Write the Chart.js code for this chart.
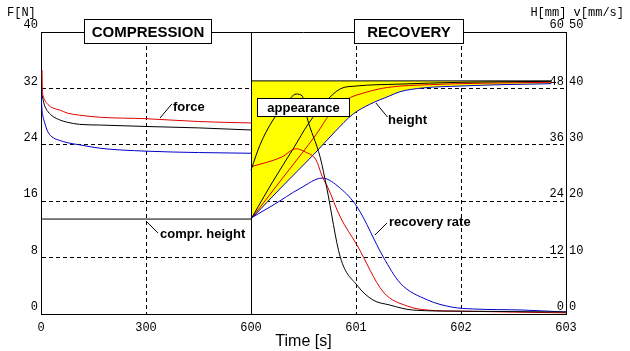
<!DOCTYPE html>
<html lang="en">
<head>
<meta charset="UTF-8">
<title>Compression and recovery</title>
<script src="https://cdn.jsdelivr.net/npm/chart.js"></script>
<style>
  html, body { margin: 0; padding: 0; background: #fff; }
  canvas { display: block; }
</style>
</head>
<body>
<canvas id="chart" width="630" height="351"></canvas>
<script>
// the time axis is split: 0..600 s takes two units, then one unit per second up to 603 s
const xTickLabels = ['0', '300', '600', '601', '602', '603'];

// compression phase, force F [N]
const compTimeRed = [3, 4, 6, 10, 20, 35, 55, 75, 110, 170, 300, 450, 600];
const forceRed    = [34.6, 31.8, 31.0, 30.4, 29.7, 29.2, 28.9, 28.5, 28.2, 27.9, 27.7, 27.3, 27.1];
const compTime    = [0, 2, 5, 10, 20, 35, 55, 75, 110, 170, 300, 450, 600];
const forceBlack  = [32.1, 31.4, 30.6, 29.6, 28.7, 28.0, 27.5, 27.2, 26.9, 26.8, 26.6, 26.4, 26.1];
const forceBlue   = [32.1, 29.6, 28.2, 27.2, 25.8, 25.0, 24.6, 24.3, 24.0, 23.5, 23.1, 22.9, 22.8];

// compressed height H [mm]
const comprTime   = [0, 600];
const comprHeight = [20.2, 20.2];

// recovery phase, height H [mm]
const heightTimeBlack = [600, 600.2, 600.4, 600.55, 600.7, 600.85, 601.0, 601.4, 602.0, 602.86];
const heightBlack     = [20.2, 27.9, 35.1, 40.6, 44.9, 47.9, 48.5, 48.9, 49.3, 49.5];
const heightTimeRed   = [600, 600.3, 600.63, 600.75, 600.9, 601.1, 601.3, 601.7, 602.2, 602.86];
const heightRed       = [20.2, 28.9, 38.5, 42.5, 45.5, 47.2, 48.2, 48.8, 49.1, 49.3];
const heightTimeBlue  = [600, 600.3, 600.6, 600.8, 600.97, 601.13, 601.32, 601.42, 601.64, 601.99, 602.4, 602.86];
const heightBlue      = [20.2, 27.2, 34.0, 38.8, 42.5, 44.6, 46.4, 47.3, 48.1, 48.5, 48.8, 49.0];

// appearance band, upper edge
const appearanceTime = [600, 602.86];
const appearanceTop  = [49.6, 49.6];

// recovery rate v [mm/s]
const rateTimeBlack = [600, 600.086, 600.21, 600.32, 600.43, 600.49, 600.53, 600.66, 600.72, 600.85, 601.01, 601.16, 601.32, 601.54, 601.99, 603];
const rateBlack     = [25.5, 30.0, 34.4, 36.9, 39.0, 38.6, 35.1, 27.7, 22.5, 10.1, 5.1, 2.5, 1.6, 0.7, 0.5, 0.35];
const rateTimeRed   = [600, 600.29, 600.43, 600.52, 600.62, 600.68, 600.73, 600.85, 601.01, 601.26, 601.49, 601.68, 602.0, 603];
const rateRed       = [26.1, 27.8, 29.3, 28.7, 27.3, 24.3, 22.5, 17.2, 12.2, 3.9, 1.4, 0.7, 0.5, 0.2];
const rateTimeBlue  = [600, 600.21, 600.47, 600.68, 600.85, 601.01, 601.26, 601.42, 601.68, 601.92, 602.11, 602.59, 603];
const rateBlue      = [17.0, 19.3, 22.3, 24.1, 22.3, 19.0, 10.1, 5.5, 2.5, 1.2, 0.9, 0.7, 0.35];

const RED = '#dd0000', BLACK = '#000000', BLUE = '#0000cc', YELLOW = '#ffff00';

function toAxis(t) {
    return t <= 600 ? t / 300 : 2 + (t - 600);
}

function series(label, times, values, color, axis, extra) {
    return Object.assign({
        label: label,
        data: times.map((t, i) => ({ x: toAxis(t), y: values[i] })),
        borderColor: color,
        borderWidth: 1,
        pointRadius: 0,
        fill: false,
        cubicInterpolationMode: 'monotone',
        yAxisID: axis
    }, extra || {});
}

// first in the list is drawn on top
const datasets = [
    series('rate black', rateTimeBlack, rateBlack, BLACK, 'yV'),
    series('rate red', rateTimeRed, rateRed, RED, 'yV'),
    series('rate blue', rateTimeBlue, rateBlue, BLUE, 'yV'),
    series('height black', heightTimeBlack, heightBlack, BLACK, 'yH'),
    series('height red', heightTimeRed, heightRed, RED, 'yH'),
    series('height blue', heightTimeBlue, heightBlue, BLUE, 'yH'),
    series('force red', compTimeRed, forceRed, RED, 'y'),
    series('force black', compTime, forceBlack, BLACK, 'y'),
    series('force blue', compTime, forceBlue, BLUE, 'y'),
    series('compr. height', comprTime, comprHeight, BLACK, 'yH')
];
const blueHeightIndex = 5;
datasets.push(series('appearance', appearanceTime, appearanceTop, BLACK, 'yH', {
    fill: blueHeightIndex,
    backgroundColor: YELLOW,
    cubicInterpolationMode: 'default',
    tension: 0
}));

// captions, placed in time / force units
const boxes = [
    { text: 'COMPRESSION', t0: 123, t1: 486, f0: 41.84, f1: 38.44, font: 'bold 15px "Liberation Sans"' },
    { text: 'RECOVERY', t0: 600.98, t1: 602.02, f0: 41.84, f1: 38.44, font: 'bold 15px "Liberation Sans"' },
    { text: 'appearance', t0: 600.057, t1: 600.933, f0: 30.64, f1: 28.09, font: 'bold 13px "Liberation Sans"' }
];
const labels = [
    { text: 'force', t: 377, f: 29.36, from: [340, 27.8], to: [374, 29.8] },
    { text: 'compr. height', t: 340, f: 11.35, from: [303, 13.05], to: [334, 11.49] },
    { text: 'height', t: 601.305, f: 27.52, from: [601.19, 29.93], to: [601.30, 27.94] },
    { text: 'recovery rate', t: 601.314, f: 13.05, from: [601.18, 11.2], to: [601.295, 12.9] }
];

const overlay = {
    id: 'overlay',
    afterDraw(chart) {
        const { ctx, chartArea: area, scales } = chart;
        const px = t => scales.x.getPixelForValue(toAxis(t));
        const py = f => scales.y.getPixelForValue(f);
        const snap = v => Math.round(v) + 0.5;
        ctx.save();
        ctx.strokeStyle = '#000';
        ctx.lineWidth = 1;
        ctx.setLineDash([]);

        // top edge of the frame and the solid split at 600 s
        ctx.beginPath();
        ctx.moveTo(area.left, snap(area.top));
        ctx.lineTo(area.right, snap(area.top));
        ctx.moveTo(snap(px(600)), area.top);
        ctx.lineTo(snap(px(600)), area.bottom);
        ctx.stroke();

        // unit headings
        ctx.fillStyle = '#000';
        ctx.font = '12px "Liberation Mono"';
        ctx.textBaseline = 'middle';
        ctx.textAlign = 'left';
        ctx.fillText('F[N]', 7, 13);
        ctx.textAlign = 'right';
        ctx.fillText('H[mm] v[mm/s]', 624, 13);

        // boxed captions
        boxes.forEach(b => {
            const x0 = snap(px(b.t0)), x1 = snap(px(b.t1));
            const y0 = snap(py(b.f0)), y1 = snap(py(b.f1));
            ctx.fillStyle = '#fff';
            ctx.fillRect(x0, y0, x1 - x0, y1 - y0);
            ctx.strokeRect(x0, y0, x1 - x0, y1 - y0);
            ctx.fillStyle = '#000';
            ctx.font = b.font;
            ctx.textAlign = 'center';
            ctx.fillText(b.text, (x0 + x1) / 2, (y0 + y1) / 2 + 1);
        });

        // free labels with their leader lines
        ctx.font = 'bold 13px "Liberation Sans"';
        ctx.textAlign = 'left';
        labels.forEach(l => {
            ctx.beginPath();
            ctx.moveTo(px(l.from[0]), py(l.from[1]));
            ctx.lineTo(px(l.to[0]), py(l.to[1]));
            ctx.stroke();
            ctx.fillText(l.text, px(l.t), py(l.f));
        });
        ctx.restore();
    }
};

Chart.defaults.font.family = '"Liberation Mono", monospace';
Chart.defaults.font.size = 12;
Chart.defaults.color = '#000';

const hidden = 'rgba(0,0,0,0)';

new Chart(document.getElementById('chart'), {
    type: 'line',
    data: { datasets: datasets },
    options: {
        responsive: false,
        animation: false,
        layout: { padding: { top: 32, left: 0, right: 0, bottom: 0 } },
        plugins: {
            legend: { display: false },
            tooltip: { enabled: false }
        },
        scales: {
            x: {
                type: 'linear',
                min: 0,
                max: 5,
                z: 1,
                afterFit: s => { s.height = 37; },
                ticks: {
                    stepSize: 1,
                    autoSkip: false,
                    maxRotation: 0,
                    padding: 7,
                    callback: (v, i) => xTickLabels[i]
                },
                grid: {
                    drawTicks: false,
                    color: c => [0, 2, 5].includes(c.tick.value) ? hidden : '#000'
                },
                border: { display: true, color: '#000', dash: [4, 3] },
                title: {
                    display: true,
                    text: 'Time [s]',
                    color: '#000',
                    font: { family: '"Liberation Sans"', size: 16 },
                    padding: { top: 0, bottom: 0 }
                }
            },
            y: {
                position: 'left',
                min: 0,
                max: 40,
                z: 1,
                afterFit: s => { s.width = 41; },
                ticks: { stepSize: 8, padding: 3, labelOffset: -7 },
                grid: {
                    drawTicks: false,
                    color: c => (c.tick.value === 0 || c.tick.value === 40) ? hidden : '#000'
                },
                border: { display: true, color: '#000', dash: [4, 3] }
            },
            yH: {
                position: 'right',
                weight: 0,
                min: 0,
                max: 60,
                afterFit: s => { s.width = 0; },
                ticks: { stepSize: 12, mirror: true, padding: -2, labelOffset: -7 },
                grid: { display: false, drawTicks: false },
                border: { display: true, color: '#000' }
            },
            yV: {
                position: 'right',
                weight: 1,
                min: 0,
                max: 50,
                afterFit: s => { s.width = 64; },
                ticks: { stepSize: 10, padding: 3, labelOffset: -7 },
                grid: { display: false, drawTicks: false },
                border: { display: false }
            }
        }
    },
    plugins: [overlay]
});
</script>
</body>
</html>
